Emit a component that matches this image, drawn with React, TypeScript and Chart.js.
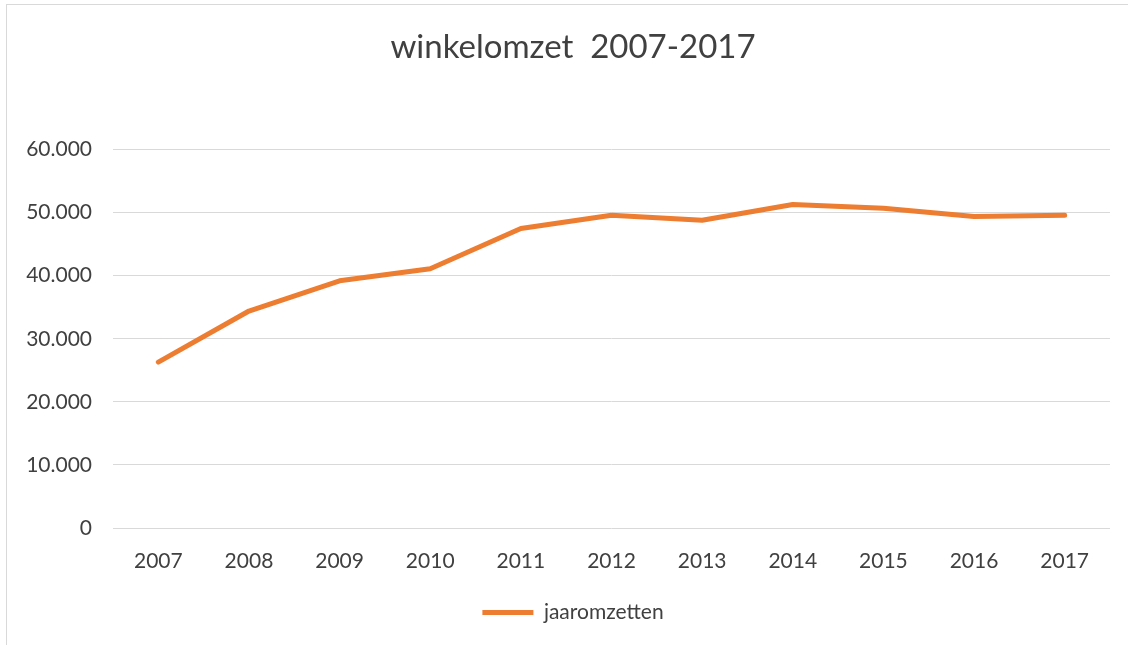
import React, { useEffect, useRef } from 'react';
import { Chart, registerables } from 'chart.js';

Chart.register(...registerables);

const years: string[] = ['2007', '2008', '2009', '2010', '2011', '2012', '2013', '2014', '2015', '2016', '2017'];
const jaaromzetten: number[] = [26300, 34400, 39200, 41100, 47500, 49600, 48800, 51300, 50700, 49400, 49600];
const seriesLabel = 'jaaromzetten';
const titleText = 'winkelomzet  2007-2017';
const yMin = 0;
const yMax = 60000;
const yStep = 10000;

const formatNL = (v: number): string => {
  const s = Math.round(v).toString();
  return s.replace(/\B(?=(\d{3})+(?!\d))/g, '.');
};

export default function App() {
  const canvasRef = useRef<HTMLCanvasElement | null>(null);

  useEffect(() => {
    if (!canvasRef.current) return;
    const textColor = '#404040';
    const chart = new Chart(canvasRef.current, {
      type: 'line',
      data: {
        labels: years,
        datasets: [
          {
            label: seriesLabel,
            data: jaaromzetten,
            borderColor: '#ED7D31',
            backgroundColor: '#ED7D31',
            borderWidth: 5,
            borderCapStyle: 'round',
            borderJoinStyle: 'round',
            pointRadius: 0,
            pointHoverRadius: 0,
            tension: 0,
            fill: false,
            yAxisID: 'y',
          },
        ],
      },
      options: {
        responsive: false,
        animation: false,
        devicePixelRatio: 1,
        layout: { padding: { left: 20, right: 2, top: 0, bottom: 12 } },
        plugins: {
          title: {
            display: true,
            text: titleText,
            color: textColor,
            font: { family: 'Lato', size: 33, weight: 'normal' },
            padding: { top: 28, bottom: 82 },
          },
          legend: {
            display: true,
            position: 'bottom',
            labels: {
              usePointStyle: true,
              pointStyle: 'line',
              pointStyleWidth: 51,
              color: textColor,
              font: { family: 'Lato', size: 21 },
              padding: 10,
            },
          },
          tooltip: { enabled: false },
        },
        scales: {
          x: {
            offset: true,
            grid: { display: false, drawTicks: false },
            border: { display: false },
            ticks: {
              color: textColor,
              font: { family: 'Lato', size: 21 },
              padding: 21,
              maxRotation: 0,
            },
            afterFit: (s: any) => {
              s.height = 64;
            },
          },
          y: {
            min: yMin,
            max: yMax,
            grid: { color: '#d9d9d9', lineWidth: 1, drawTicks: false },
            border: { display: false },
            ticks: {
              stepSize: yStep,
              color: textColor,
              font: { family: 'Lato', size: 21 },
              padding: 21,
              callback: (v: any) => formatNL(Number(v)),
            },
            afterFit: (s: any) => {
              s.width = 93;
            },
          },
          yRight: {
            position: 'right',
            min: yMin,
            max: yMax,
            grid: { display: false, drawTicks: false },
            border: { display: false },
            ticks: { display: false },
            afterFit: (s: any) => {
              s.width = 16;
            },
          },
        },
      },
    });
    return () => chart.destroy();
  }, []);

  return (
    <div style={{ position: 'fixed', left: 0, top: 0, width: 1128, height: 645, background: '#ffffff', overflow: 'hidden' }}>
      <div
        style={{
          position: 'absolute',
          left: 6,
          top: 4,
          width: 1200,
          height: 700,
          border: '1px solid #d9d9d9',
          boxSizing: 'border-box',
          pointerEvents: 'none',
        }}
      />
      <canvas ref={canvasRef} width={1128} height={645} style={{ position: 'absolute', left: 0, top: 0, width: 1128, height: 645 }} />
    </div>
  );
}
